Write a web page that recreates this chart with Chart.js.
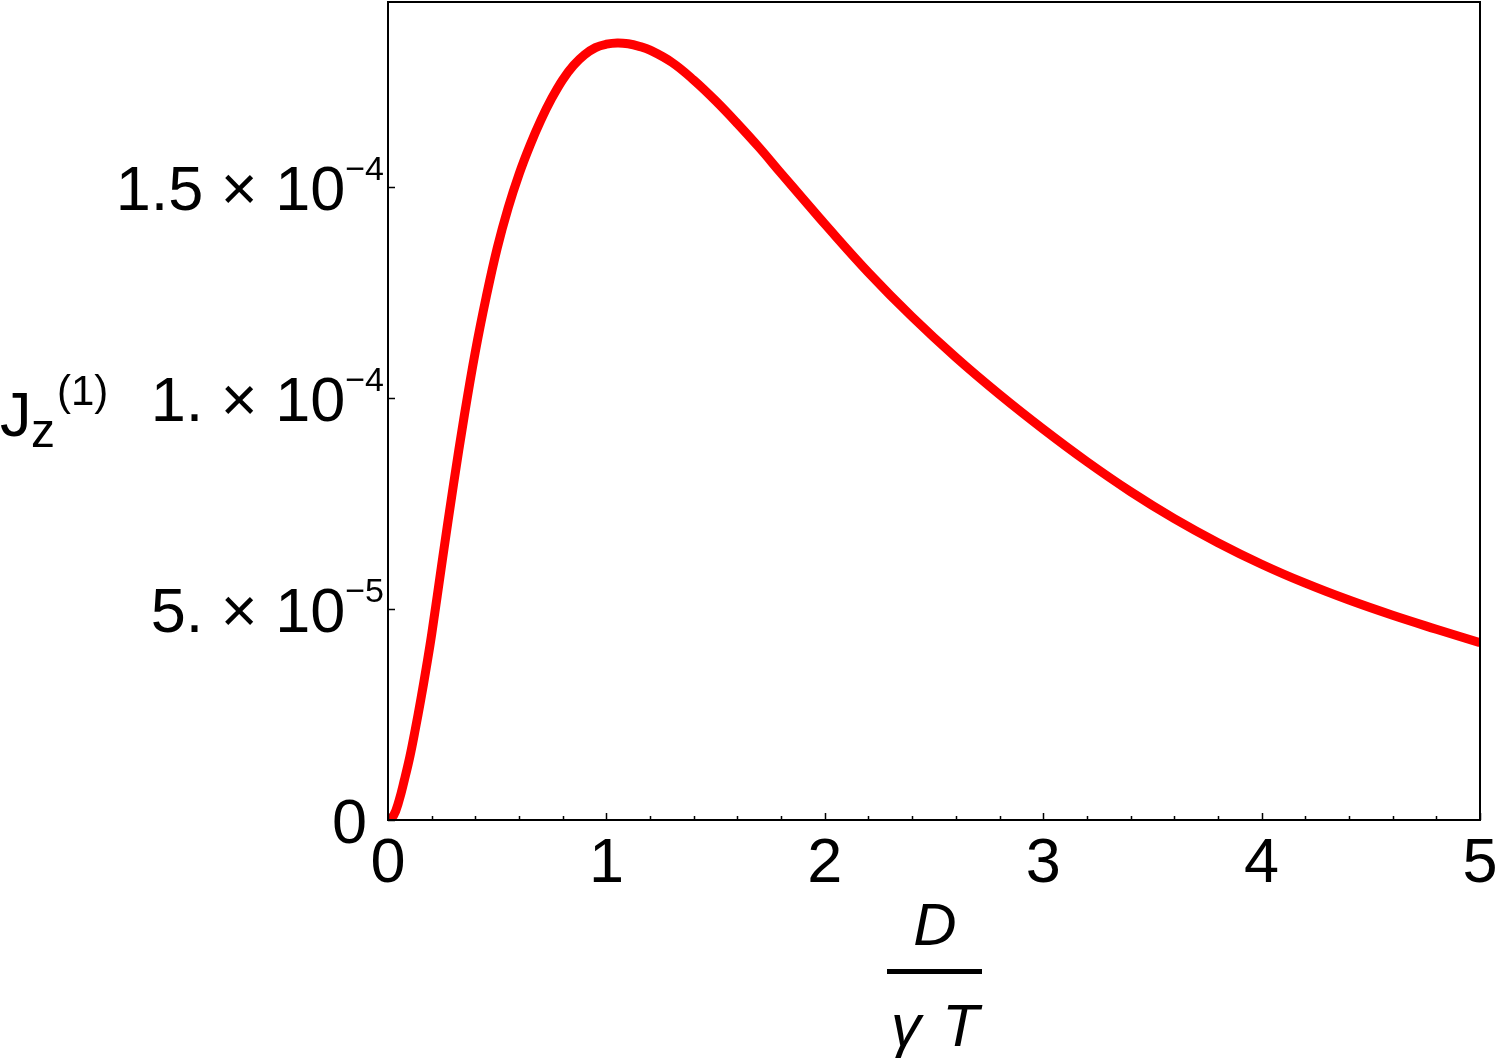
<!DOCTYPE html>
<html>
<head>
<meta charset="utf-8">
<title>Jz(1) vs D/(gamma T)</title>
<script src="https://cdn.jsdelivr.net/npm/chart.js@4.4.1/dist/chart.umd.min.js"></script>
<style>
    html, body { margin: 0; padding: 0; background: #ffffff; }
    #wrap { width: 1500px; height: 1063px; }
</style>
</head>
<body>
<div id="wrap"><canvas id="jzChart" width="1500" height="1063"></canvas></div>
<script>
// ===================================
// DATA
// ===================================

// D / (gamma T)
const xValues = [
    0, 0.025, 0.05, 0.075, 0.1, 0.125, 0.15, 0.175, 0.2, 0.25,
    0.3, 0.35, 0.4, 0.45, 0.5, 0.55, 0.6, 0.65, 0.7, 0.75,
    0.8, 0.85, 0.9, 0.95, 1.0, 1.05, 1.1, 1.15, 1.2, 1.3,
    1.4, 1.5, 1.6, 1.7, 1.8, 1.9, 2.0, 2.2, 2.4, 2.6,
    2.8, 3.0, 3.2, 3.4, 3.6, 3.8, 4.0, 4.2, 4.4, 4.6,
    4.8, 5.0
];

// Jz(1)
const jzValues = [
    0, 0.1e-5, 0.45e-5, 0.95e-5, 1.5e-5, 2.15e-5, 2.85e-5, 3.6e-5, 4.4e-5, 6.2e-5,
    7.95e-5, 9.6e-5, 11.1e-5, 12.4e-5, 13.55e-5, 14.5e-5, 15.3e-5, 15.98e-5, 16.58e-5, 17.1e-5,
    17.54e-5, 17.88e-5, 18.13e-5, 18.3e-5, 18.38e-5, 18.41e-5, 18.39e-5, 18.33e-5, 18.24e-5, 17.95e-5,
    17.53e-5, 17.04e-5, 16.5e-5, 15.93e-5, 15.32e-5, 14.72e-5, 14.12e-5, 12.97e-5, 11.92e-5, 10.96e-5,
    10.08e-5, 9.26e-5, 8.49e-5, 7.78e-5, 7.14e-5, 6.57e-5, 6.06e-5, 5.61e-5, 5.21e-5, 4.85e-5,
    4.52e-5, 4.2e-5
];

// Ticks
const xTickValues = [0, 1, 2, 3, 4, 5];
const xTickLabels = ['0', '1', '2', '3', '4', '5'];
const xMinorStep = 0.2;
const yTickValues = [0, 5e-5, 1e-4, 1.5e-4];
const yTickMantissa = ['0', '5. \u00d7 10', '1. \u00d7 10', '1.5 \u00d7 10'];
const yTickExponent = ['', '\u22125', '\u22124', '\u22124'];

// ===================================
// DRAWING HELPERS
// ===================================

const FONT = '"Liberation Sans", Arial, sans-serif';

const framePlugin = {
    id: 'mmaFrame',
    afterDraw(chart) {
        const ctx = chart.ctx;
        const area = chart.chartArea;
        const xs = chart.scales.x;
        const ys = chart.scales.y;

        ctx.save();
        ctx.strokeStyle = '#000';
        ctx.fillStyle = '#000';

        // frame
        ctx.lineWidth = 2;
        ctx.strokeRect(area.left, area.top, area.right - area.left, area.bottom - area.top);

        // x ticks (major + minor, inward)
        ctx.lineWidth = 1.5;
        ctx.beginPath();
        for (let v = 0; v <= 5.0001; v += xMinorStep) {
            const px = Math.round(xs.getPixelForValue(v)) + 0.5;
            const isMajor = Math.abs(v - Math.round(v)) < 1e-6;
            ctx.moveTo(px, area.bottom);
            ctx.lineTo(px, area.bottom - (isMajor ? 7 : 4));
        }
        // y ticks (major only)
        yTickValues.forEach(v => {
            const py = Math.round(ys.getPixelForValue(v)) + 0.5;
            ctx.moveTo(area.left, py);
            ctx.lineTo(area.left + 7, py);
        });
        ctx.stroke();

        // x tick labels
        ctx.font = '63px ' + FONT;
        ctx.textAlign = 'center';
        ctx.textBaseline = 'alphabetic';
        xTickValues.forEach((v, i) => {
            ctx.fillText(xTickLabels[i], xs.getPixelForValue(v), area.bottom + 62);
        });

        // y tick labels: mantissa x 10^exponent
        yTickValues.forEach((v, i) => {
            const py = ys.getPixelForValue(v);
            const base = py + 23;
            if (!yTickExponent[i]) {
                ctx.font = '63px ' + FONT;
                ctx.textAlign = 'right';
                ctx.fillText(yTickMantissa[i], area.left - 21, base);
                return;
            }
            ctx.font = '34px ' + FONT;
            const expW = ctx.measureText(yTickExponent[i]).width;
            ctx.textAlign = 'right';
            const right = area.left - 4;
            ctx.fillText(yTickExponent[i], right, base - 30);
            ctx.font = '63px ' + FONT;
            ctx.fillText(yTickMantissa[i], right - expW, base);
        });

        // y axis title: J_z^(1)
        ctx.textAlign = 'left';
        ctx.font = '63px ' + FONT;
        ctx.fillText('J', 0, 436);
        ctx.font = '48px ' + FONT;
        ctx.fillText('z', 31, 447);
        ctx.font = '42px ' + FONT;
        ctx.fillText('(1)', 57, 405);

        // x axis title: D / (gamma T)
        const cx = 935;
        ctx.font = 'italic 60px ' + FONT;
        ctx.textAlign = 'center';
        ctx.fillText('D', cx, 945);
        ctx.fillRect(887, 969, 95, 5);
        ctx.textAlign = 'left';
        ctx.fillText('\u03b3', 891, 1046);
        ctx.textAlign = 'right';
        ctx.fillText('T', 979, 1046);

        ctx.restore();
    }
};

// ===================================
// CHART
// ===================================

const points = xValues.map((x, i) => ({ x: x, y: jzValues[i] }));

new Chart(document.getElementById('jzChart').getContext('2d'), {
    type: 'line',
    data: {
        datasets: [{
            data: points,
            borderColor: '#ff0000',
            borderWidth: 9,
            pointRadius: 0,
            fill: false,
            tension: 0.4,
            clip: 0
        }]
    },
    options: {
        responsive: false,
        animation: false,
        devicePixelRatio: 1,
        layout: {
            padding: { left: 388, top: 2, right: 20, bottom: 243 }
        },
        plugins: {
            legend: { display: false },
            tooltip: { enabled: false }
        },
        scales: {
            x: { type: 'linear', min: 0, max: 5, display: false },
            y: { type: 'linear', min: 0, max: 1.938e-4, display: false }
        }
    },
    plugins: [framePlugin]
});
</script>
</body>
</html>
